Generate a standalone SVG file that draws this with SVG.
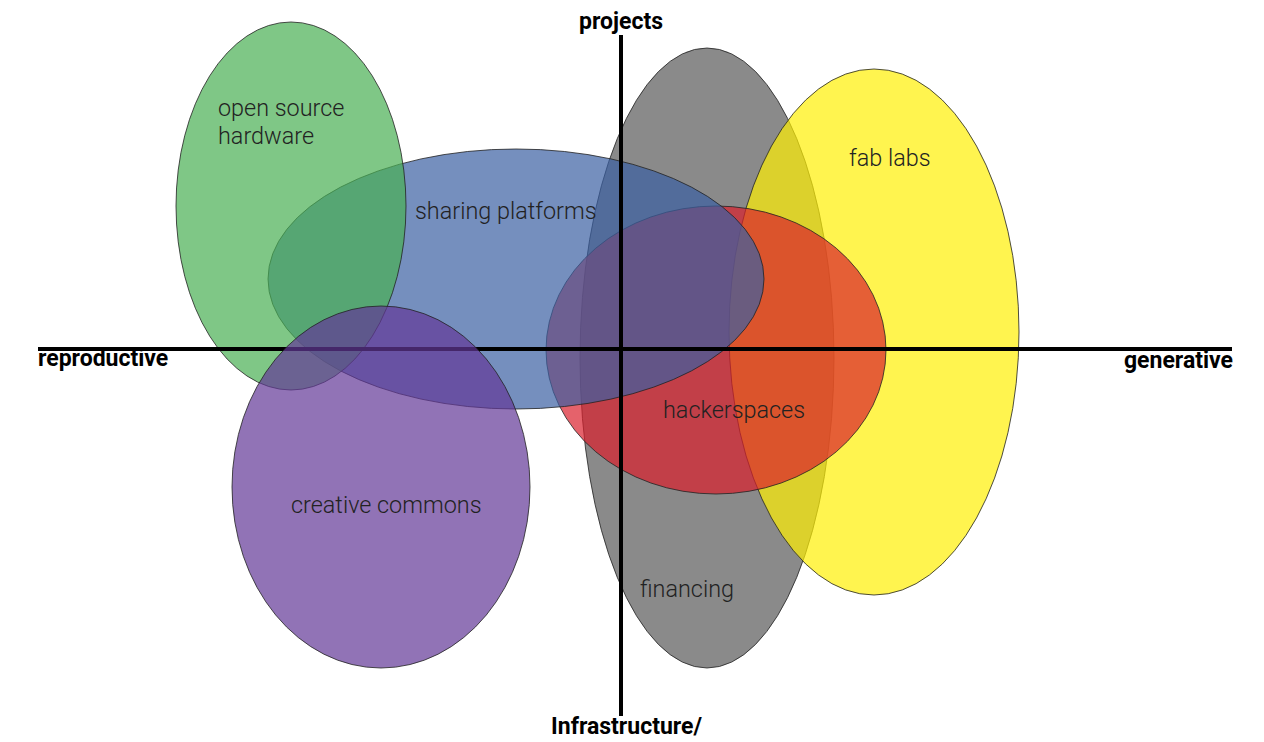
<svg xmlns="http://www.w3.org/2000/svg" width="1264" height="742" viewBox="0 0 1264 742">
<style>
.e{stroke:#222;stroke-width:1;stroke-opacity:0.8;fill-opacity:0.7}
.lbl{font-family:Roboto,"Liberation Sans",sans-serif;font-weight:300;font-size:23.4px;fill:#222}
.ax{font-family:Roboto,"Liberation Sans",sans-serif;font-weight:700;font-size:23px;fill:#000}
.axis{stroke:#000;stroke-width:4}
</style>
<rect width="1264" height="742" fill="#fff"/>
<g id="financing">
<ellipse class="e" cx="707" cy="358" rx="127" ry="310" fill="#585858"/>
<text class="lbl" x="640" y="597">financing</text>
</g>
<g id="fab-labs">
<ellipse class="e" cx="874" cy="332" rx="145" ry="263" fill="#ffef04"/>
<text class="lbl" x="849" y="166">fab labs</text>
</g>
<g id="hackerspaces">
<ellipse class="e" cx="716" cy="350" rx="170" ry="144" fill="#da202c"/>
<text class="lbl" x="663" y="418">hackerspaces</text>
</g>
<g id="sharing-platforms">
<ellipse class="e" cx="516" cy="279" rx="248" ry="130" fill="#3b60a2"/>
<text class="lbl" x="415" y="219">sharing platforms</text>
</g>
<g id="open-source-hardware">
<ellipse class="e" cx="291" cy="206" rx="115" ry="184" fill="#48af52"/>
<text class="lbl" x="218" y="116">open source</text>
<text class="lbl" x="218" y="144">hardware</text>
</g>
<line id="axis-horizontal" class="axis" x1="38" y1="349" x2="1232" y2="349"/>
<g id="creative-commons">
<ellipse class="e" cx="381" cy="487" rx="149" ry="181" fill="#633897"/>
<text class="lbl" x="291" y="513">creative commons</text>
</g>
<g id="connectors">
<line id="axis-vertical" class="axis" x1="621" y1="35" x2="621" y2="716"/>
</g>
<g id="axis-labels">
<text class="ax" x="621" y="29" text-anchor="middle">projects</text>
<text class="ax" x="38" y="366">reproductive</text>
<text class="ax" x="1233" y="368" text-anchor="end">generative</text>
<text class="ax" x="626.5" y="734" text-anchor="middle">Infrastructure/</text>
</g>
</svg>
